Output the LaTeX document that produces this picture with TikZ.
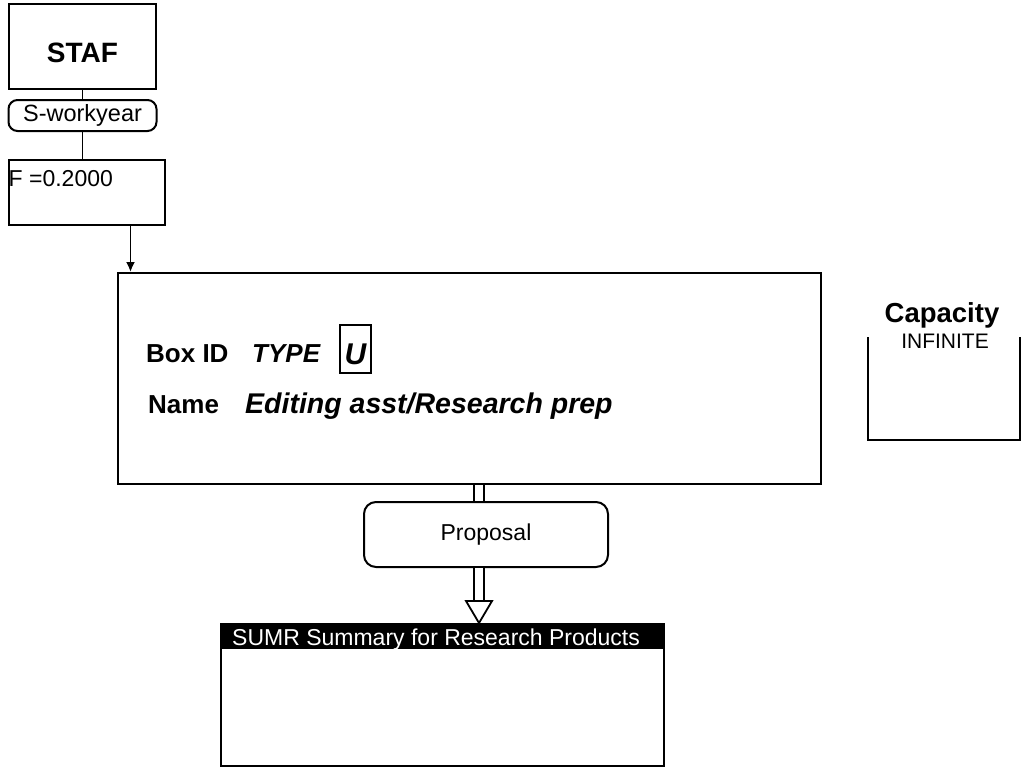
\documentclass[tikz,border=0pt]{standalone}
\usepackage{fontspec}
\setmainfont{Liberation Sans}
\usetikzlibrary{positioning, calc, arrows.meta}
\newcommand{\fsz}[1]{\fontsize{#1}{#1}\selectfont}

\begin{document}
\begin{tikzpicture}[x=1pt, y=-1pt,
    box/.style={draw, rectangle, line width=2pt, inner sep=0pt},
    pill/.style={draw, rectangle, rounded corners=#1,
      line width=2pt, inner sep=0pt},
    link/.style={line width=1.8pt},
    flow/.style={double, double distance=8.5pt, line width=1.8pt},
    label/.style={inner sep=0pt, anchor=base west}]

  \useasboundingbox (0,0) rectangle (1024,768);

  % RESOURCE COLUMN

  \node[box,
    minimum width=147pt,
    minimum height=85pt,
    anchor=north west] (staf) at (8,3) {};
  \node[inner sep=0pt, anchor=base] (stafname) at ($(staf.north)+(0,60)$) {\bfseries\fsz{28}STAF};

  \node[pill=9pt,
    minimum width=148pt,
    minimum height=31pt,
    below=9pt of staf] (workyear) {\fsz{23.5}S-workyear};

  \node[box,
    minimum width=156pt,
    minimum height=65pt,
    below=27pt of workyear.south west,
    anchor=north west] (factor) {};

  \node[label] (factortext) at ($(factor.north west)+(1,27)$) {\fsz{23}F =0.2000};

  \draw[link] (staf) -- (workyear);
  \draw[link] (workyear) -- (workyear |- factor.north);

  % ACTIVITY BOX

  \node[box,
    minimum width=703pt,
    minimum height=211pt,
    anchor=north west] (main) at (117,272) {};

  \coordinate (feed) at ($(factor.south west)+(123,0)$);
  \draw[link, -{Latex[length=10pt, width=9pt]}] (feed) -- (feed |- main.north);

  \node[label] (boxid) at (146,362) {\bfseries\fsz{26}Box ID};
  \node[label] (typetext) at (252,362) {\bfseries\itshape\fsz{26}TYPE};
  \node[box,
    minimum width=31pt,
    minimum height=48pt] (typeval) at (355.5,349) {};
  \node[inner sep=0pt, anchor=base] (typeletter) at ($(typeval.south)+(0,-10)$) {\bfseries\itshape\fsz{30}U};

  \node[label] (nametext) at (148,413) {\bfseries\fsz{26}Name};
  \node[label] (nameval) at (245,413) {\bfseries\itshape\fsz{28.5}Editing asst/Research prep};

  % CAPACITY

  \node[inner sep=0pt, anchor=base] (captitle) at (942,322) {\bfseries\fsz{27.5}Capacity};
  \node[inner sep=0pt, anchor=base] (capval) at (945,348) {\fsz{21}INFINITE};

  \node[minimum width=152pt,
    minimum height=103pt,
    anchor=north west] (capbox) at (868,337) {};
  \draw[line width=2pt] (capbox.north west) |- (capbox.south east) -- (capbox.north east);

  % OUTPUT

  \node[pill=12pt,
    minimum width=244pt,
    minimum height=65pt,
    anchor=north west] (proposal) at (363,501) {\fsz{23}Proposal};

  \node[box,
    minimum width=443pt,
    minimum height=142pt,
    anchor=north west] (sumr) at (220,623) {};
  \fill (sumr.north west) rectangle ($(sumr.north east)+(0,26)$);
  \node[label, text=white] (sumrtitle) at ($(sumr.north west)+(12,22)$) {\fsz{23}SUMR Summary for Research Products};

  \coordinate (flowin) at ($(proposal.north)+(-7,0)$);
  \coordinate (flowout) at ($(proposal.south)+(-7,0)$);
  \draw[flow] (flowin |- main.south) -- (flowin);
  \draw[flow] (flowout) -- ++(0,34);
  \draw[line width=1.8pt, fill=white, line join=miter]
    ($(flowout)+(-13,33)$) -- ($(flowout)+(13,33)$) -- (flowout |- sumr.north) -- cycle;

\end{tikzpicture}
\end{document}
